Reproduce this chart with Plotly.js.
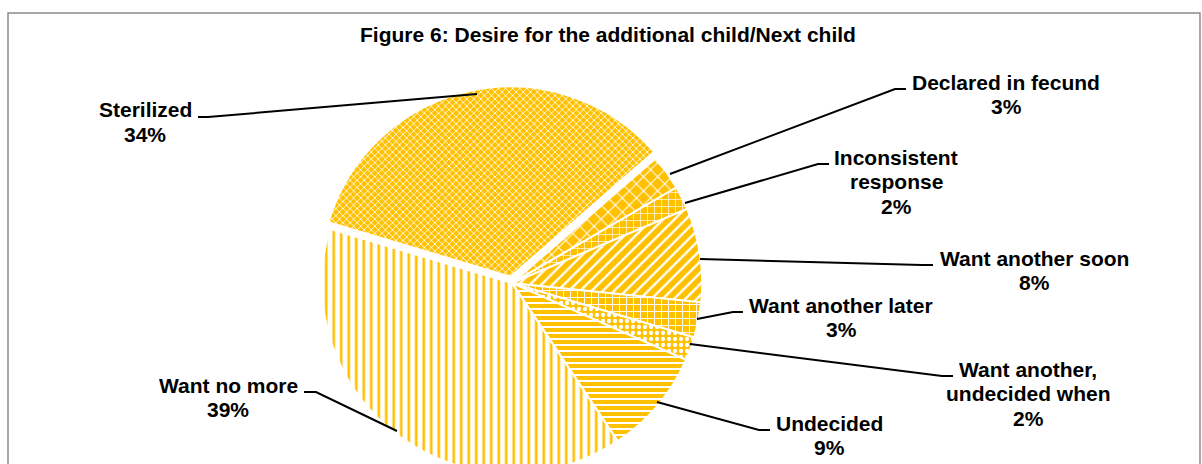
<!DOCTYPE html>
<html>
<head>
<meta charset="utf-8">
<script src="https://cdn.plot.ly/plotly-3.0.1.min.js"></script>
<style>
html, body { margin:0; padding:0; width:1202px; height:464px; overflow:hidden; background:#fff; }
#wrap { width:1202px; height:464px; overflow:hidden; }
#chart { width:1202px; height:480px; }
</style>
</head>
<body>
<div id="wrap"><div id="chart"></div></div>
<script>
// ---- data ----
const chartTitle = "Figure 6: Desire for the additional child/Next child";
const categories = ["Declared in fecund", "Inconsistent response", "Want another soon",
  "Want another later", "Want another, undecided when", "Undecided", "Want no more", "Sterilized"];
const percents = [3, 2, 8, 3, 2, 9, 39, 34];

// ---- styling / layout helpers ----
const W = 1202, H = 480;
const px = x => x / W;
const py = y => 1 - y / H;
const YEL = "#FFC000";

// words per line for wrapped labels
const wrapAfter = { "Inconsistent response": 1, "Want another, undecided when": 2 };
// label anchor: center x, first line center y
const labelPos = [
  { x: 1006, y: 82 },
  { x: 896, y: 157 },
  { x: 1034, y: 258 },
  { x: 841, y: 305 },
  { x: 1028, y: 369 },
  { x: 829, y: 423 },
  { x: 228, y: 385 },
  { x: 145, y: 110 }
];
const lineGap = 24.5;
// leader line polylines (pixel coords)
const leaders = [
  [[670, 174], [895, 89], [906, 89]],
  [[685, 203], [818, 164], [829, 164]],
  [[700, 259], [922, 265], [933, 265]],
  [[697, 319], [733, 312], [743, 312]],
  [[690, 344], [942, 376], [953, 376]],
  [[657, 402], [759, 430], [770, 430]],
  [[397, 431], [316, 392], [304, 392]],
  [[477, 94], [208, 117], [198, 117]]
];

const font = { family: "Arial, 'Liberation Sans', sans-serif", size: 21, color: "#000", weight: "bold" };

const annotations = [];
categories.forEach((c, i) => {
  const words = c.split(" ");
  let lines = [c];
  if (wrapAfter[c]) lines = [words.slice(0, wrapAfter[c]).join(" "), words.slice(wrapAfter[c]).join(" ")];
  lines.push(percents[i] + "%");
  lines.forEach((t, k) => {
    annotations.push({
      xref: "paper", yref: "paper", x: px(labelPos[i].x), y: py(labelPos[i].y + k * lineGap),
      xanchor: "center", yanchor: "middle", showarrow: false, text: t, font: font
    });
  });
});

const shapes = leaders.map(pts => ({
  type: "path", xref: "paper", yref: "paper",
  path: pts.map((p, k) => (k ? "L" : "M") + px(p[0]) + "," + py(p[1])).join(" "),
  line: { color: "#000", width: 2 }
}));
shapes.push({
  type: "rect", xref: "paper", yref: "paper",
  x0: px(8), x1: px(1200), y0: py(478), y1: py(13),
  line: { color: "#8a8a8a", width: 1.5 }
});

// pie geometry
const pull = 0.035, R = 191, cx = 512, cy = 284;
const half = R * (1 + pull);

const trace = {
  type: "pie",
  labels: categories,
  values: percents,
  sort: false,
  direction: "clockwise",
  rotation: 49,
  pull: categories.map(c => c === "Sterilized" ? pull : 0),
  textinfo: "none",
  hoverinfo: "skip",
  showlegend: false,
  domain: { x: [px(cx - half), px(cx + half)], y: [py(cy + half), py(cy - half)] },
  marker: {
    colors: categories.map(() => YEL),
    line: { color: "#fff", width: 2 },
    pattern: {
      fillmode: "replace",
      shape:    ["x",  "+",  "/",  "+",  ".",  "-",  "|",   "x"],
      bgcolor:  [YEL,  YEL,  YEL,  YEL,  YEL,  YEL,  "#fff", YEL],
      fgcolor:  ["#fff","#fff","#fff","#fff","#fff","#fff", YEL, "#fff"],
      size:     [10,   7,    8,    7,    6,    6,    7.5,   5],
      solidity: [0.2,  0.18, 0.3,  0.25, 0.4,  0.33, 0.35,  0.3]
    }
  }
};

const layout = {
  width: W, height: H,
  margin: { l: 0, r: 0, t: 0, b: 0 },
  paper_bgcolor: "#fff",
  title: {
    text: chartTitle, x: px(608), xanchor: "center", y: py(35), yanchor: "middle",
    yref: "container", font: { family: font.family, size: 21, color: "#000", weight: "bold" }
  },
  annotations: annotations,
  shapes: shapes
};

Plotly.newPlot("chart", [trace], layout, { staticPlot: true, displayModeBar: false });
</script>
</body>
</html>
